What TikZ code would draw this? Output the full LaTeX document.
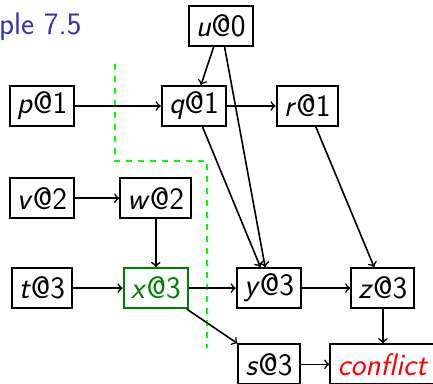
\documentclass[tikz,border=0pt]{standalone}
\usetikzlibrary{arrows}
\definecolor{structblue}{RGB}{51,51,178}
\newcommand{\litfont}{\sffamily\fontsize{15.6}{19}\selectfont}
\tikzstyle{lit} = [rectangle, minimum height=20pt, inner xsep=3.6pt, inner ysep=2.5pt, text centered, draw=black, line width=1pt, font=\litfont]
\tikzstyle{decided} = [lit, draw=green!50!black, text=green!50!black]
\tikzstyle{arrow} = [thick,-{to[scale=1.35]}]

\begin{document}
\begin{tikzpicture}
			\useasboundingbox (-0.738,-4.868) rectangle (6.871,1.863);
			\node (title) [anchor=base west, inner sep=0pt, text=structblue, font=\litfont] at (-0.76,1.248) {ple 7.5};

			\node (p) [lit] {\textit{p}@1};
			\node (q) [lit, right of=p, xshift=1.67cm] {\textit{q}@1};
			\node (r) [lit, right of=q, xshift=0.99cm] {\textit{r}@1};
			\node (u) [lit, above of=q, xshift=0.47cm, yshift=0.41cm] {\textit{u}@0};
			\node (v) [lit, below of=p, yshift=-0.62cm] {\textit{v}@2};
			\node (w) [lit, right of=v, xshift=1cm] {\textit{w}@2};
			\node (t) [lit, below of=v, yshift=-0.58cm] {\textit{t}@3};
			\node (x) [decided, right of=t, xshift=1cm] {\textit{x}@3};
			\node (y) [lit, right of=x, xshift=0.99cm] {\textit{y}@3};
			\node (z) [lit, right of=y, xshift=1cm] {\textit{z}@3};
			\node (s) [lit, below of=y, yshift=-0.34cm] {\textit{s}@3};
			\node (confl) [lit, below of=z, yshift=-0.34cm, text=red] {\textit{conflict}};

			% cut
			\draw [green, dashed, line width=0.6pt] (1.283,0.738) -- (1.283,-0.967) -- (2.900,-0.967) -- (2.900,-4.253);

			\draw [arrow] (p) -- (q);
			\draw [arrow] (q) -- (r);
			\draw [arrow] (u) -- (q);
			\draw [arrow] (u) -- (y);
			\draw [arrow] (q) -- (y);
			\draw [arrow] (r) -- (z);
			\draw [arrow] (v) -- (w);
			\draw [arrow] (w) -- (x);
			\draw [arrow] (t) -- (x);
			\draw [arrow] (x) -- (y);
			\draw [arrow] (y) -- (z);
			\draw [arrow] (x) -- (s.north west);
			\draw [arrow] (s) -- (confl);
			\draw [arrow] (z) -- (confl);
		\end{tikzpicture}
\end{document}
